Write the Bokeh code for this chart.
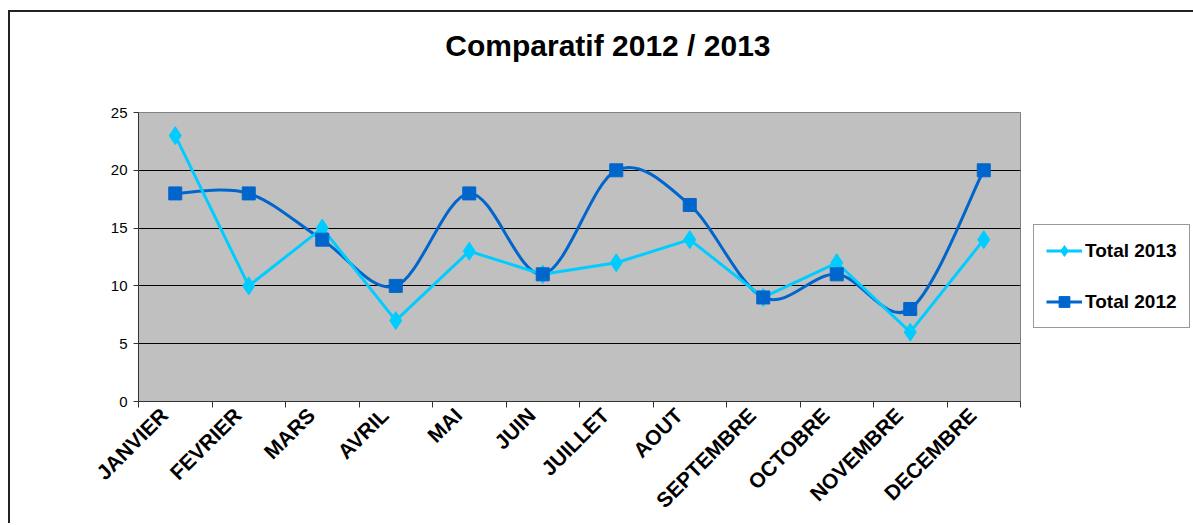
import math
from bokeh.plotting import figure
from bokeh.layouts import column, row
from bokeh.models import (ColumnDataSource, FixedTicker, Legend, LegendItem, Range1d, Label)
from bokeh.embed import file_html
from bokeh.resources import INLINE

months = ["JANVIER", "FEVRIER", "MARS", "AVRIL", "MAI", "JUIN", "JUILLET",
          "AOUT", "SEPTEMBRE", "OCTOBRE", "NOVEMBRE", "DECEMBRE"]
total_2013 = [23, 10, 15, 7, 13, 11, 12, 14, 9, 12, 6, 14]
total_2012 = [18, 18, 14, 10, 18, 11, 20, 17, 9, 11, 8, 20]
y_ticks = [0, 5, 10, 15, 20, 25]
title_text = "Comparatif 2012 / 2013"

FONT = "Liberation Sans"
C13 = "#00CCFF"
C12 = "#0066CC"

xs = [i + 0.5 for i in range(len(months))]
label_pos = [x - 0.15 for x in xs]   # anchor of the rotated month labels

# ---- title strip ----
tf = figure(width=1183, height=88, output_backend="svg", toolbar_location=None,
            x_range=Range1d(0, 1), y_range=Range1d(0, 1),
            x_axis_location=None, y_axis_location=None,
            min_border=0, outline_line_color=None)
tf.grid.visible = False
tf.title = None
tf.add_layout(Label(x=0.505, y=0.625, text=title_text, text_align="center",
                    text_baseline="middle", text_font=FONT, text_font_size="30px",
                    text_font_style="bold", text_color="black"))

# ---- main plot ----
p = figure(width=1012, height=423, output_backend="svg", toolbar_location=None,
           x_range=Range1d(0, 12), y_range=Range1d(0, 25),
           min_border_left=128, min_border_right=2, min_border_top=12,
           min_border_bottom=122)
p.title = None
p.background_fill_color = "#C0C0C0"
p.border_fill_color = "white"
p.outline_line_color = "#808080"
p.outline_line_width = 1

p.xgrid.visible = False
p.ygrid.ticker = FixedTicker(ticks=y_ticks)
p.ygrid.grid_line_color = "black"
p.ygrid.grid_line_width = 1

p.yaxis.ticker = FixedTicker(ticks=y_ticks)
p.yaxis.major_label_text_font = FONT
p.yaxis.major_label_text_font_size = "15px"
p.yaxis.major_label_text_color = "black"
p.yaxis.axis_line_color = "#333333"
p.yaxis.major_tick_line_color = "#333333"
p.yaxis.major_tick_in = 0
p.yaxis.major_tick_out = 5
p.yaxis.minor_tick_line_color = None
p.yaxis.major_label_standoff = 6

p.xaxis.ticker = FixedTicker(ticks=label_pos, minor_ticks=list(range(13)))
p.xaxis.major_label_overrides = {x: m for x, m in zip(label_pos, months)}
p.xaxis.major_label_orientation = math.pi / 4
p.xaxis.major_label_text_font = FONT
p.xaxis.major_label_text_font_size = "21px"
p.xaxis.major_label_text_font_style = "bold"
p.xaxis.major_label_text_color = "black"
p.xaxis.major_tick_line_color = None
p.xaxis.major_tick_out = 0
p.xaxis.major_tick_in = 0
p.xaxis.minor_tick_line_color = "#333333"
p.xaxis.minor_tick_in = 0
p.xaxis.minor_tick_out = 6
p.xaxis.axis_line_color = "#333333"
p.xaxis.major_label_standoff = 4

# 2012 smoothed (Catmull-Rom -> Bezier segments)
n = len(xs)
def pt(i):
    i = max(0, min(n - 1, i))
    return xs[i], total_2012[i]
bz = dict(x0=[], y0=[], x1=[], y1=[], cx0=[], cy0=[], cx1=[], cy1=[])
for i in range(n - 1):
    p0, p1, p2, p3 = pt(i - 1), pt(i), pt(i + 1), pt(i + 2)
    bz["x0"].append(p1[0]); bz["y0"].append(p1[1])
    bz["x1"].append(p2[0]); bz["y1"].append(p2[1])
    bz["cx0"].append(p1[0] + (p2[0] - p0[0]) / 6)
    bz["cy0"].append(p1[1] + (p2[1] - p0[1]) / 6)
    bz["cx1"].append(p2[0] - (p3[0] - p1[0]) / 6)
    bz["cy1"].append(p2[1] - (p3[1] - p1[1]) / 6)

src13 = ColumnDataSource(dict(x=xs, y=total_2013))
src12 = ColumnDataSource(dict(x=xs, y=total_2012))

p.bezier(x0="x0", y0="y0", x1="x1", y1="y1", cx0="cx0", cy0="cy0",
         cx1="cx1", cy1="cy1", source=ColumnDataSource(bz),
         line_color=C12, line_width=3)
p.line("x", "y", source=src13, line_color=C13, line_width=3)
p.scatter("x", "y", source=src13, marker="diamond", size=18,
          fill_color=C13, line_color=C13)
p.scatter("x", "y", source=src12, marker="square", size=13,
          fill_color=C12, line_color=C12)

# ---- legend panel (its frame is aligned with the main frame by the row) ----
lf = figure(width=171, height=423, output_backend="svg", toolbar_location=None,
            x_range=Range1d(0, 1), y_range=Range1d(0, 1),
            x_axis_location=None, y_axis_location=None,
            min_border_left=0, min_border_top=12, min_border_right=0,
            min_border_bottom=122, outline_line_color=None)
lf.grid.visible = False
lf.title = None
l13l = lf.line("x", "y", source=src13, line_color=C13, line_width=3, visible=False)
l13m = lf.scatter("x", "y", source=src13, marker="diamond", size=13,
                  fill_color=C13, line_color=C13, visible=False)
l12l = lf.line("x", "y", source=src12, line_color=C12, line_width=3, visible=False)
l12m = lf.scatter("x", "y", source=src12, marker="square", size=11,
                  fill_color=C12, line_color=C12, visible=False)

legend = Legend(items=[LegendItem(label="Total 2013", renderers=[l13l, l13m]),
                       LegendItem(label="Total 2012", renderers=[l12l, l12m])],
                location=(11, 73))
legend.label_text_font = FONT
legend.label_text_font_size = "19px"
legend.label_text_font_style = "bold"
legend.label_text_color = "black"
legend.border_line_color = "#333333"
legend.border_line_width = 1
legend.background_fill_color = "white"
legend.background_fill_alpha = 1
legend.glyph_width = 36
legend.glyph_height = 27
legend.label_height = 27
legend.spacing = 24
legend.padding = 12
legend.margin = 0
legend.label_standoff = 3
lf.add_layout(legend)

layout = column(tf, row(p, lf))
layout.styles = {"border-top": "2px solid #222", "border-left": "2px solid #222",
                 "margin-top": "10px", "margin-left": "8px"}

open("out.html", "w").write(file_html(layout, INLINE))
